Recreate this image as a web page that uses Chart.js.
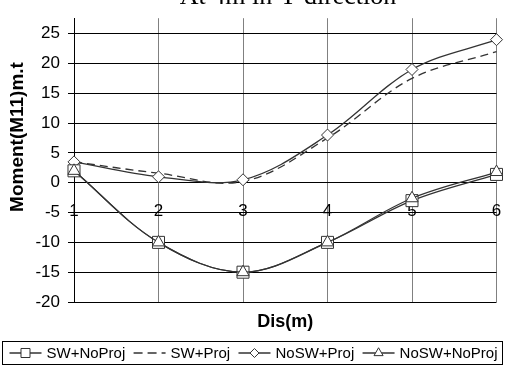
<!DOCTYPE html>
<html>
<head>
<meta charset="utf-8">
<script src="https://cdn.jsdelivr.net/npm/chart.js@4.4.1/dist/chart.umd.min.js"></script>
<style>
  html, body { margin: 0; padding: 0; background: #fff; overflow: hidden; }
  #wrap { position: relative; width: 506px; height: 371px; }
</style>
</head>
<body>
<div id="wrap"><canvas id="chart" width="506" height="371"></canvas></div>
<script>
// data
const distances = [1, 2, 3, 4, 5, 6];
const swNoProj = [2, -10, -15, -10, -3, 1.4];
const swProj = [3.5, 1.6, 0.2, 7.5, 17.5, 22];
const noSwProj = [3.5, 1, 0.5, 8, 19, 24];
const noSwNoProj = [2, -10, -15, -10, -2.6, 1.8];
const yTicks = [-20, -15, -10, -5, 0, 5, 10, 15, 20, 25];
const seriesNames = ['SW+NoProj', 'SW+Proj', 'NoSW+Proj', 'NoSW+NoProj'];
const chartTitle = 'At 4m in Y direction';
const yTitle = 'Moment(M11)m.t';

const SANS = "'Liberation Sans', Arial, sans-serif";
const SERIF = "'Liberation Serif', 'Times New Roman', serif";
const INK = '#333';

const toPoints = vals => distances.map((d, i) => ({ x: d, y: vals[i] }));

// style for each series (line dash + marker); lower order is drawn on top
const seriesStyles = [
  { dash: [], pointStyle: 'rect', radius: 8.5, order: 1 },
  { dash: [8, 5], pointStyle: false, radius: 0, order: 3 },
  { dash: [], pointStyle: 'rectRot', radius: 6, order: 2 },
  { dash: [], pointStyle: 'triangle', radius: 7, order: 0 }
];
const seriesValues = [swNoProj, swProj, noSwProj, noSwNoProj];

const datasets = seriesNames.map((name, i) => ({
  label: name,
  data: toPoints(seriesValues[i]),
  order: seriesStyles[i].order,
  borderColor: INK,
  borderWidth: 1.3,
  borderDash: seriesStyles[i].dash,
  tension: 0.35,
  clip: false,
  pointStyle: seriesStyles[i].pointStyle,
  pointRadius: seriesStyles[i].radius,
  pointBackgroundColor: '#fff',
  pointBorderColor: INK,
  pointBorderWidth: 1,
  fill: false
}));

// title clipped at the top edge, plus the rotated y title
const extraText = {
  id: 'extraText',
  afterDraw(chart) {
    const ctx = chart.ctx;
    ctx.save();
    ctx.font = '26px ' + SERIF;
    ctx.fillStyle = '#000';
    ctx.textAlign = 'center';
    ctx.textBaseline = 'alphabetic';
    ctx.fillText(chartTitle, 288, 4);

    ctx.translate(18, 137);
    ctx.rotate(-Math.PI / 2);
    ctx.font = 'bold 19px ' + SANS;
    ctx.textBaseline = 'middle';
    ctx.fillText(yTitle, 0, 0);
    ctx.restore();
  }
};

// boxed legend under the chart: line sample with marker, then label
const boxLegend = {
  id: 'boxLegend',
  afterDraw(chart) {
    const ctx = chart.ctx;
    const box = { x: 2.5, y: 341.5, w: 500, h: 23 };
    const sampleW = 32, textGap = 5;
    ctx.save();
    ctx.strokeStyle = '#000';
    ctx.lineWidth = 1;
    ctx.strokeRect(box.x, box.y, box.w, box.h);

    ctx.font = '15px ' + SANS;
    const widths = seriesNames.map(n => ctx.measureText(n).width);
    const used = widths.reduce((s, w) => s + w + sampleW + textGap, 0);
    const gap = (box.w - 12 - used) / (seriesNames.length - 1);
    const cy = box.y + box.h / 2;
    let x = box.x + 7;
    seriesNames.forEach((name, i) => {
      const st = seriesStyles[i];
      ctx.strokeStyle = INK;
      ctx.lineWidth = 1.3;
      ctx.setLineDash(st.dash.length ? [9, 5] : []);
      ctx.beginPath();
      ctx.moveTo(x, cy);
      ctx.lineTo(x + sampleW, cy);
      ctx.stroke();
      ctx.setLineDash([]);
      if (st.pointStyle) {
        ctx.fillStyle = '#fff';
        ctx.lineWidth = 1;
        Chart.helpers.drawPoint(ctx, {
          pointStyle: st.pointStyle,
          radius: st.radius * 0.75,
          rotation: 0,
          borderWidth: 1
        }, x + sampleW / 2, cy);
      }
      ctx.fillStyle = '#000';
      ctx.textAlign = 'left';
      ctx.textBaseline = 'middle';
      ctx.fillText(name, x + sampleW + textGap, cy + 1);
      x += sampleW + textGap + widths[i] + gap;
    });
    ctx.restore();
  }
};

function noSidePadding(scale) {
  scale.paddingLeft = 0;
  scale.paddingRight = 0;
}

new Chart(document.getElementById('chart'), {
  type: 'line',
  data: { datasets },
  plugins: [extraText, boxLegend],
  options: {
    responsive: false,
    devicePixelRatio: 1,
    animation: false,
    layout: { padding: { top: 8, right: 0, bottom: 34, left: 0 } },
    plugins: {
      legend: { display: false },
      title: { display: false },
      tooltip: { enabled: false }
    },
    scales: {
      x: {
        type: 'linear',
        position: { y: 0 },
        min: 1,
        max: 6,
        ticks: {
          stepSize: 1,
          color: '#000',
          padding: 18,
          maxRotation: 0,
          font: { family: SANS, size: 17 }
        },
        grid: { color: '#808080', drawTicks: false },
        border: { display: false },
        afterFit: noSidePadding
      },
      x2: {
        type: 'linear',
        position: 'bottom',
        min: 1,
        max: 6,
        ticks: { display: false },
        grid: { display: false },
        border: { display: false },
        title: {
          display: true,
          text: 'Dis(m)',
          color: '#000',
          font: { family: SANS, size: 18, weight: 'bold' },
          padding: { top: 0, bottom: 4 }
        },
        afterFit(scale) {
          noSidePadding(scale);
          scale.height = 35;
        }
      },
      y: {
        type: 'linear',
        position: 'left',
        min: -20,
        max: 27.6,
        afterBuildTicks(scale) { scale.ticks = yTicks.map(v => ({ value: v })); },
        ticks: {
          color: '#000',
          padding: 8,
          font: { family: SANS, size: 17 }
        },
        grid: { color: '#000', tickLength: 6 },
        border: { color: '#000' },
        afterFit(scale) { scale.width = 74; }
      }
    }
  }
});
</script>
</body>
</html>
